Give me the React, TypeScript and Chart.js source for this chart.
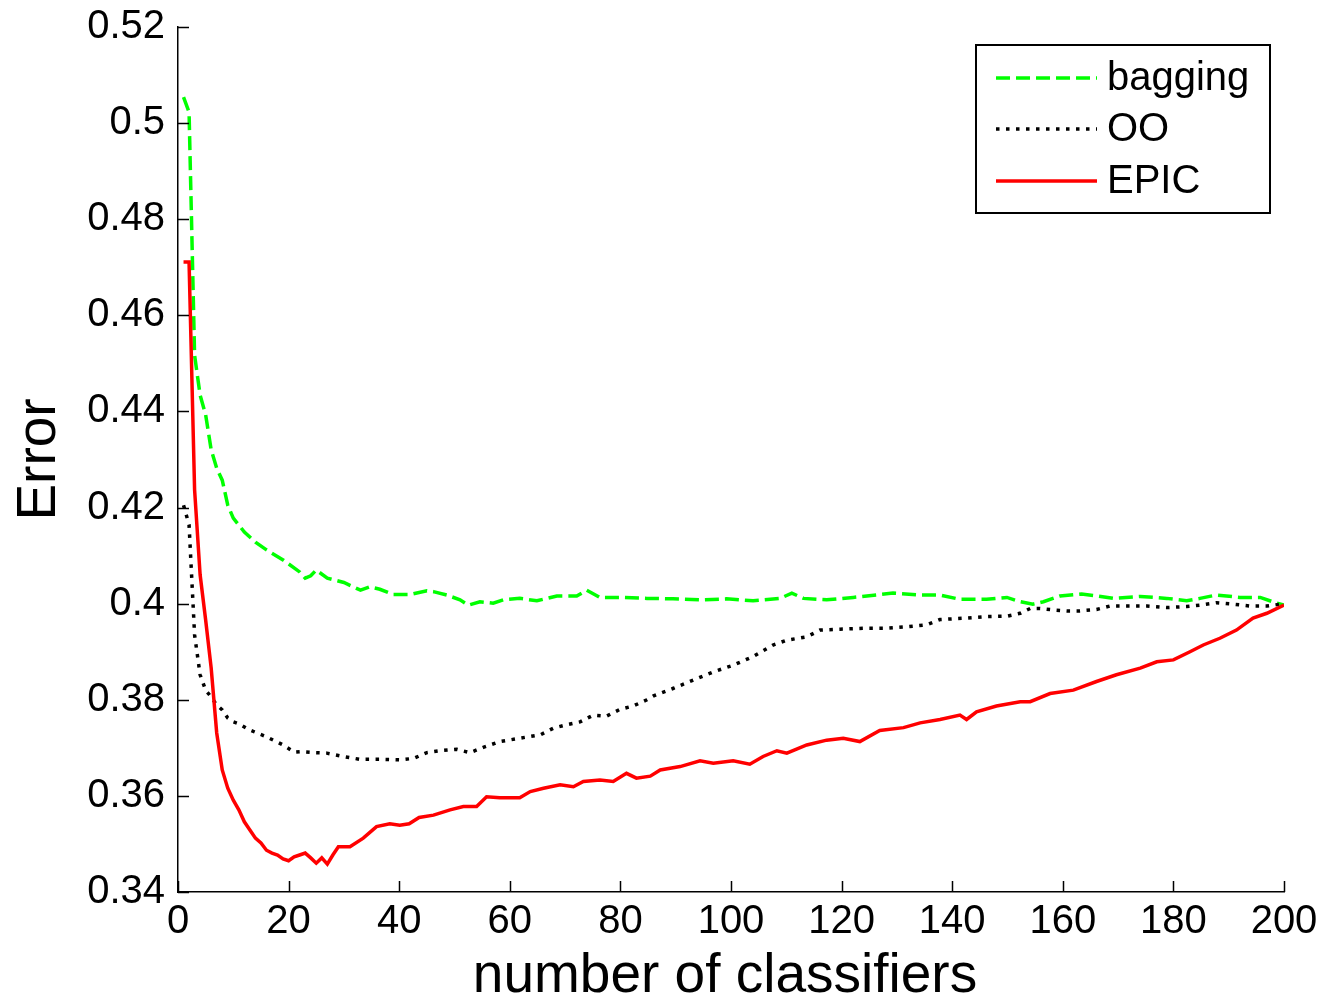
import { useEffect, useRef } from "react";
import { Chart, registerables } from "chart.js";

Chart.register(...registerables);

const xTicks = [0, 20, 40, 60, 80, 100, 120, 140, 160, 180, 200];
const yTicks = [0.34, 0.36, 0.38, 0.4, 0.42, 0.44, 0.46, 0.48, 0.5, 0.52];

const seriesNames = ["bagging", "OO", "EPIC"];

const bagX = [1, 2, 3, 4, 5, 6, 7, 8, 9, 10, 12, 14, 16, 19, 22, 23, 24, 25, 27, 30, 33, 34.7, 36.5, 38.9, 42, 45, 46.2, 48.6, 51, 52.5, 54.6, 57, 58.8, 61.8, 64.9, 68.5, 72.1, 73.9, 76.3, 79.9, 84.8, 89.5, 94.4, 99.2, 104, 108.9, 111, 113.1, 117.3, 122.1, 126.9, 129.3, 134.2, 137.8, 141.4, 146.2, 149.9, 152.3, 154.6, 156.5, 159.5, 163.4, 166.1, 169.1, 174, 178.8, 182.4, 184.8, 187.8, 192, 195.7, 198.7, 200];
const bagY = [0.5054, 0.5023, 0.4517, 0.4434, 0.4393, 0.432, 0.4282, 0.4257, 0.4205, 0.4178, 0.4149, 0.4128, 0.4112, 0.4091, 0.4066, 0.4053, 0.4058, 0.407, 0.4053, 0.4044, 0.4028, 0.4035, 0.403, 0.4019, 0.4019, 0.4027, 0.4025, 0.4018, 0.4008, 0.3997, 0.4004, 0.4001, 0.4008, 0.4011, 0.4006, 0.4016, 0.4016, 0.4028, 0.4013, 0.4013, 0.4011, 0.401, 0.4008, 0.401, 0.4006, 0.4011, 0.4022, 0.4011, 0.4008, 0.4013, 0.4019, 0.4022, 0.4018, 0.4018, 0.4009, 0.4009, 0.4013, 0.4004, 0.3999, 0.4004, 0.4016, 0.402, 0.4016, 0.4011, 0.4015, 0.4011, 0.4006, 0.4011, 0.4018, 0.4013, 0.4013, 0.4001, 0.3997];

const ooX = [1, 2, 3, 4, 5, 6, 7, 8, 9, 10, 11, 13, 16, 19, 21, 22.1, 24.5, 26.9, 29.9, 32.9, 36.5, 40.1, 42.6, 45, 47.4, 50.4, 52.8, 55.2, 58.2, 61.8, 65.5, 67.9, 70.3, 72.7, 75.1, 77.5, 79.9, 82.3, 84.8, 86, 89.6, 93.2, 96.8, 100.4, 104, 107.6, 110.1, 113.7, 116.1, 119.7, 124.5, 128.2, 131.8, 135.4, 137.8, 142.6, 146.2, 149.9, 152.3, 154.1, 155.9, 158.3, 160.7, 163.1, 166.1, 168.5, 171.6, 175.2, 178.8, 182.4, 184.8, 187.8, 190.8, 193.9, 196.9, 200];
const ooY = [0.4205, 0.4164, 0.3935, 0.3852, 0.382, 0.3806, 0.3789, 0.3779, 0.3762, 0.3754, 0.375, 0.3737, 0.3723, 0.3706, 0.3691, 0.3692, 0.369, 0.3689, 0.3682, 0.3676, 0.3676, 0.3675, 0.3678, 0.369, 0.3694, 0.3697, 0.369, 0.3701, 0.3713, 0.372, 0.3727, 0.3741, 0.3748, 0.3754, 0.3768, 0.3766, 0.378, 0.3787, 0.38, 0.3808, 0.3824, 0.3841, 0.3858, 0.3872, 0.389, 0.3914, 0.3924, 0.3931, 0.3945, 0.3947, 0.3949, 0.3949, 0.3952, 0.3956, 0.3967, 0.397, 0.3973, 0.3974, 0.398, 0.399, 0.399, 0.3987, 0.3985, 0.3985, 0.3988, 0.3995, 0.3995, 0.3995, 0.3992, 0.3994, 0.3997, 0.4002, 0.3999, 0.3995, 0.3995, 0.4];

const epicX = [1, 2, 3, 4, 5, 6, 7, 8, 9, 10, 11, 12, 13, 14, 15, 16, 17, 18, 19, 20, 21, 22, 23, 24, 25, 26, 27, 28, 29, 31.1, 33.5, 35.9, 38.3, 40.1, 41.8, 43.6, 46.2, 49.2, 51.6, 54, 55.8, 58.2, 61.8, 63.7, 66.1, 69.1, 71.5, 73.3, 76.3, 78.7, 81.1, 82.9, 85.4, 87.2, 90.8, 94.4, 96.8, 100.4, 103.4, 105.8, 108.3, 110.1, 113.7, 117.3, 120.3, 123.3, 126.9, 131.2, 134.2, 137.8, 141.4, 142.6, 144.4, 148, 152.3, 154.1, 157.7, 161.9, 166.1, 169.7, 174, 177, 180, 183, 185.4, 188.4, 191.4, 194.4, 196.9, 200];
const epicY = [0.4711, 0.4711, 0.4237, 0.406, 0.3966, 0.3866, 0.3731, 0.3654, 0.3616, 0.3591, 0.3571, 0.3546, 0.3529, 0.3512, 0.3502, 0.3487, 0.3481, 0.3477, 0.3469, 0.3465, 0.3473, 0.3477, 0.3481, 0.3471, 0.346, 0.3471, 0.3458, 0.3477, 0.3494, 0.3494, 0.3512, 0.3536, 0.3542, 0.3539, 0.3542, 0.3555, 0.356, 0.3571, 0.3578, 0.3578, 0.3598, 0.3596, 0.3596, 0.3609, 0.3616, 0.3623, 0.3619, 0.363, 0.3633, 0.363, 0.3647, 0.3637, 0.3641, 0.3654, 0.3661, 0.3673, 0.3668, 0.3673, 0.3666, 0.3682, 0.3694, 0.3689, 0.3706, 0.3716, 0.372, 0.3713, 0.3736, 0.3742, 0.3752, 0.3759, 0.3768, 0.3759, 0.3775, 0.3787, 0.3796, 0.3796, 0.3813, 0.382, 0.3838, 0.3852, 0.3866, 0.3879, 0.3883, 0.39, 0.3914, 0.3928, 0.3945, 0.397, 0.398, 0.3997];

const FONT = "'Liberation Sans', Arial, sans-serif";

const toPoints = (xs: number[], ys: number[]) => xs.map((x, i) => ({ x, y: ys[i] }));

const decorPlugin = {
  id: "decor",
  afterDraw(chart: any) {
    const ctx = chart.ctx as CanvasRenderingContext2D;
    const xs = chart.scales.x;
    const ys = chart.scales.y;
    const area = chart.chartArea;
    ctx.save();
    // inward tick marks
    ctx.strokeStyle = "#000";
    ctx.lineWidth = 1.5;
    const tl = 11;
    ctx.beginPath();
    xTicks.forEach((t) => {
      const px = Math.round(xs.getPixelForValue(t)) + 0.5;
      ctx.moveTo(px, area.bottom);
      ctx.lineTo(px, area.bottom - tl);
    });
    yTicks.forEach((t) => {
      const py = Math.round(ys.getPixelForValue(t)) + 0.5;
      ctx.moveTo(area.left, py);
      ctx.lineTo(area.left + tl, py);
    });
    ctx.stroke();

    // axis titles
    ctx.fillStyle = "#000";
    ctx.font = `55px ${FONT}`;
    ctx.textAlign = "center";
    ctx.textBaseline = "middle";
    ctx.fillText("number of classifiers", 725, 977);
    ctx.save();
    ctx.translate(40, (area.top + area.bottom) / 2);
    ctx.rotate(-Math.PI / 2);
    ctx.fillText("Error", 0, 0);
    ctx.restore();

    // legend box
    const bx = 976, by = 45, bw = 294, bh = 168;
    ctx.fillStyle = "#fff";
    ctx.fillRect(bx, by, bw, bh);
    ctx.strokeStyle = "#000";
    ctx.lineWidth = 2;
    ctx.strokeRect(bx, by, bw, bh);
    const rows = [78, 129, 181];
    chart.data.datasets.forEach((ds: any, i: number) => {
      const y = rows[i];
      ctx.save();
      ctx.strokeStyle = ds.borderColor;
      ctx.lineWidth = ds.borderWidth;
      ctx.setLineDash(ds.borderDash || []);
      ctx.beginPath();
      ctx.moveTo(996, y);
      ctx.lineTo(1097, y);
      ctx.stroke();
      ctx.restore();
      ctx.fillStyle = "#000";
      ctx.font = `40px ${FONT}`;
      ctx.textAlign = "left";
      ctx.textBaseline = "middle";
      ctx.fillText(ds.label, 1107, y + 1);
    });
    ctx.restore();
  },
};

export default function App() {
  const ref = useRef<HTMLCanvasElement | null>(null);
  useEffect(() => {
    if (!ref.current) return;
    const chart = new Chart(ref.current, {
      type: "line",
      data: {
        datasets: [
          {
            label: seriesNames[0],
            data: toPoints(bagX, bagY),
            borderColor: "#00ff00",
            borderWidth: 3.5,
            borderDash: [14, 6],
            pointRadius: 0,
            tension: 0,
            order: 3,
          },
          {
            label: seriesNames[1],
            data: toPoints(ooX, ooY),
            borderColor: "#000000",
            borderWidth: 3.5,
            borderDash: [3.5, 6.5],
            pointRadius: 0,
            tension: 0,
            order: 2,
          },
          {
            label: seriesNames[2],
            data: toPoints(epicX, epicY),
            borderColor: "#ff0000",
            borderWidth: 3.5,
            pointRadius: 0,
            tension: 0,
            order: 1,
          },
        ],
      },
      options: {
        animation: false,
        responsive: false,
        events: [],
        layout: { padding: { left: 0, right: 42, top: 27, bottom: 0 } },
        plugins: { legend: { display: false }, tooltip: { enabled: false }, title: { display: false } },
        scales: {
          x: {
            type: "linear",
            min: 0,
            max: 200,
            afterFit: (s: any) => { s.height = 111; s.paddingLeft = 0; s.paddingRight = 0; },
            afterBuildTicks: (s: any) => { s.ticks = xTicks.map((v) => ({ value: v })); },
            grid: { display: false, drawTicks: false, tickLength: 0 },
            border: { display: true, color: "#000", width: 1.5 },
            ticks: {
              padding: 6,
              color: "#000",
              font: { family: FONT, size: 40 },
              maxRotation: 0,
              autoSkip: false,
              callback: (v: any) => String(v),
            },
          },
          y: {
            type: "linear",
            min: 0.34,
            max: 0.52,
            afterFit: (s: any) => { s.width = 178; s.paddingTop = 0; s.paddingBottom = 0; },
            afterBuildTicks: (s: any) => { s.ticks = yTicks.map((v) => ({ value: v })); },
            grid: { display: false, drawTicks: false, tickLength: 0 },
            border: { display: true, color: "#000", width: 1.5 },
            ticks: {
              padding: 13,
              color: "#000",
              font: { family: FONT, size: 40 },
              autoSkip: false,
              callback: (v: any) => String(Number(Number(v).toFixed(2))),
            },
          },
        },
      },
      plugins: [decorPlugin],
    });
    return () => chart.destroy();
  }, []);
  return (
    <div style={{ position: "fixed", left: 0, top: 0, width: 1326, height: 1003, background: "#fff" }}>
      <canvas ref={ref} width={1326} height={1003} style={{ display: "block", width: 1326, height: 1003 }} />
    </div>
  );
}
